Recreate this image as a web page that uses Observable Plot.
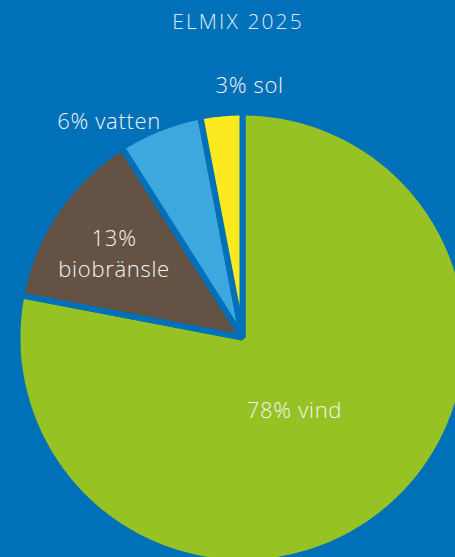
<!DOCTYPE html>
<html><head><meta charset="utf-8">
<script src="https://cdn.jsdelivr.net/npm/d3@7"></script>
<script src="https://cdn.jsdelivr.net/npm/@observablehq/plot@0.6"></script>
<style>
html,body{margin:0;padding:0;background:#0070b9;}
#chart{position:relative;width:455px;height:557px;overflow:hidden;background:#0070b9;}
#chart svg{display:block;}
</style>
</head><body>
<div id="chart"></div>
<script>
// ---- data ----
const title = "ELMIX 2025";
const categories = ["vind", "biobränsle", "vatten", "sol"];
const shares = [78, 13, 6, 3];
const labels = ["78% vind", "13%\nbiobränsle", "6% vatten", "3% sol"];
const colors = ["#97c224", "#645244", "#3ca8de", "#fce920"];

// ---- layout / style ----
const W = 455, H = 557;
const bg = "#0070b9";
const cx = 242, cy = 337, R = 225;
const labelRadius = [0.39, 0.69, 1.14, 1.13];
const labelDx = [-4, 0, -39, 31];
const labelDy = [3, 1, 20, -2];

// slice geometry from shares (clockwise from 12 o'clock)
const total = d3.sum(shares);
let acc = 0;
const slices = categories.map((c, i) => {
  const a0 = acc / total * 2 * Math.PI;
  acc += shares[i];
  const a1 = acc / total * 2 * Math.PI;
  return {category: c, a0, a1, mid: (a0 + a1) / 2};
});
const pts = [];
for (const s of slices) {
  pts.push({category: s.category, x: 0, y: 0});
  const n = Math.max(2, Math.ceil((s.a1 - s.a0) / (Math.PI / 360)));
  for (let k = 0; k <= n; k++) {
    const a = s.a0 + (s.a1 - s.a0) * k / n;
    pts.push({category: s.category, x: Math.sin(a), y: Math.cos(a)});
  }
}
const labelMarks = slices.map((s, i) => Plot.text([labels[i]], {
  x: () => labelRadius[i] * Math.sin(s.mid),
  y: () => labelRadius[i] * Math.cos(s.mid),
  text: d => d,
  dx: labelDx[i], dy: labelDy[i],
  fill: "#f4f4ef",
  fontSize: 22,
  fontFamily: "Open Sans",
  fontWeight: 300,
  lineHeight: 1.45,
  textAnchor: "middle",
  lineAnchor: "middle"
}));

const chart = Plot.plot({
  width: W, height: H,
  margin: 0,
  axis: null,
  style: {background: bg, overflow: "hidden"},
  x: {type: "linear", domain: [-1, 1], range: [cx - R, cx + R]},
  y: {type: "linear", domain: [-1, 1], range: [cy + R, cy - R]},
  color: {domain: categories, range: colors},
  marks: [
    Plot.line(pts, {
      x: "x", y: "y", z: "category", fill: "category",
      stroke: bg, strokeWidth: 6, strokeLinejoin: "miter",
      curve: "linear-closed", clip: true
    }),
    ...labelMarks,
    Plot.text([title], {
      frameAnchor: "top", text: d => d, dx: 10, dy: 22,
      fill: "#dfe9f3", fontSize: 21, fontFamily: "Open Sans", fontWeight: 300,
      lineAnchor: "middle"
    })
  ]
});
// letter spacing (not a Plot option): title wider, labels slightly wider
d3.select(chart).selectAll("text").each(function() {
  const isTitle = this.textContent === title;
  this.style.letterSpacing = isTitle ? "2.1px" : "0.7px";
});
document.getElementById("chart").appendChild(chart);
</script>
</body></html>
